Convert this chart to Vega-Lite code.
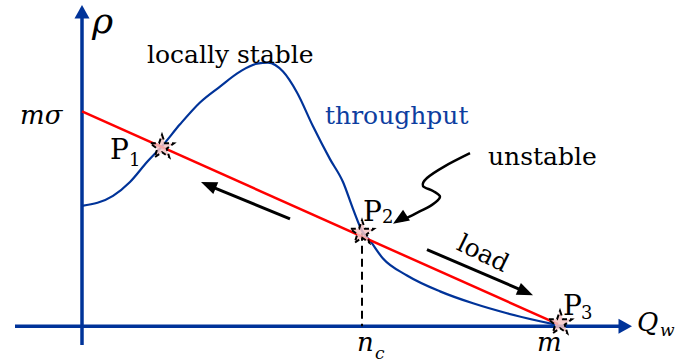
{
  "$schema": "https://vega.github.io/schema/vega-lite/v6.json",
  "width": 677,
  "height": 362,
  "padding": 0,
  "autosize": {"type": "fit", "contains": "padding"},
  "background": "white",
  "config": {"view": {"stroke": null}, "font": "DejaVu Serif"},
  "datasets": {
    "axes": [
      {"x": 0, "y": -19, "x2": 0, "y2": 312},
      {"x": -67, "y": 0, "x2": 540, "y2": 0}
    ],
    "axisHeads": [
      {"x": 0, "y": 323, "a": 0},
      {"x": 550, "y": 0, "a": 90}
    ],
    "drop": [
      {"x": 280, "y": 94, "x2": 280, "y2": 0}
    ],
    "load": [
      {"x": 0, "y": 216},
      {"x": 476, "y": 2}
    ],
    "throughput": [
      {"x": 0, "y": 121},
      {"x": 31, "y": 131},
      {"x": 48, "y": 145},
      {"x": 65, "y": 165},
      {"x": 80, "y": 181},
      {"x": 98, "y": 203},
      {"x": 118, "y": 225},
      {"x": 138, "y": 241},
      {"x": 158, "y": 256},
      {"x": 175, "y": 264},
      {"x": 186, "y": 265},
      {"x": 201, "y": 256},
      {"x": 215, "y": 235},
      {"x": 231, "y": 201},
      {"x": 248, "y": 168},
      {"x": 261, "y": 145},
      {"x": 271, "y": 118},
      {"x": 280, "y": 96},
      {"x": 288, "y": 86},
      {"x": 301, "y": 68},
      {"x": 325, "y": 51},
      {"x": 358, "y": 35},
      {"x": 391, "y": 23},
      {"x": 425, "y": 13},
      {"x": 458, "y": 5},
      {"x": 476, "y": 1}
    ],
    "arrows": [
      {"g": "a1", "o": 0, "x": 208, "y": 108},
      {"g": "a1", "o": 1, "x": 130, "y": 140},
      {"g": "a2", "o": 0, "x": 345, "y": 77},
      {"g": "a2", "o": 1, "x": 440, "y": 36}
    ],
    "squiggle": [
      {"o": 0, "x": 388, "y": 174},
      {"o": 1, "x": 363, "y": 161},
      {"o": 2, "x": 345, "y": 149},
      {"o": 3, "x": 341, "y": 141},
      {"o": 4, "x": 351, "y": 136},
      {"o": 5, "x": 358, "y": 130},
      {"o": 6, "x": 350, "y": 122},
      {"o": 7, "x": 333, "y": 113},
      {"o": 8, "x": 319, "y": 106}
    ],
    "heads": [
      {"x": 119, "y": 145, "a": 292.6},
      {"x": 451, "y": 31, "a": 113.5},
      {"x": 311, "y": 103, "a": 237.5}
    ],
    "stars": [
      {"x": 80, "y": 180},
      {"x": 280, "y": 94},
      {"x": 478, "y": 3}
    ],
    "plain": [
      {"x": 65, "y": 265, "t": "locally stable"},
      {"x": 406, "y": 162, "t": "unstable"}
    ],
    "blueText": [
      {"x": 243, "y": 203, "t": "throughput"}
    ],
    "pLabels": [
      {"x": 28, "y": 168, "t": "P"},
      {"x": 281, "y": 106, "t": "P"},
      {"x": 481, "y": 11, "t": "P"}
    ],
    "pSubs": [
      {"x": 47, "y": 161, "t": "1"},
      {"x": 300, "y": 104, "t": "2"},
      {"x": 499, "y": 7, "t": "3"}
    ],
    "rho": [
      {"x": 10, "y": 295, "t": "ρ"}
    ],
    "italic": [
      {"x": -62, "y": 203, "t": "mσ"},
      {"x": 275, "y": -25, "t": "n"},
      {"x": 455, "y": -25, "t": "m"},
      {"x": 555, "y": -5, "t": "Q"}
    ],
    "italicSubs": [
      {"x": 293, "y": -33, "t": "c"},
      {"x": 578, "y": -10, "t": "w"}
    ],
    "loadText": [
      {"x": 401, "y": 73, "t": "load"}
    ]
  },
  "encoding": {
    "x": {"field": "x", "type": "quantitative", "scale": {"domain": [-82, 595], "nice": false, "zero": false}, "axis": null},
    "y": {"field": "y", "type": "quantitative", "scale": {"domain": [-34, 328], "nice": false, "zero": false}, "axis": null}
  },
  "layer": [
    {
      "data": {"name": "axes"},
      "mark": {"type": "rule", "color": "#003399", "strokeWidth": 3.5},
      "encoding": {"x2": {"field": "x2"}, "y2": {"field": "y2"}}
    },
    {
      "data": {"name": "axisHeads"},
      "mark": {"type": "point", "shape": "M0,0L1,1.8L-1,1.8Z", "filled": true, "color": "#003399", "opacity": 1, "size": 225},
      "encoding": {"angle": {"field": "a", "type": "quantitative", "scale": null}}
    },
    {
      "data": {"name": "drop"},
      "mark": {"type": "rule", "color": "black", "strokeWidth": 2, "strokeDash": [8, 5]},
      "encoding": {"x2": {"field": "x2"}, "y2": {"field": "y2"}}
    },
    {
      "data": {"name": "throughput"},
      "mark": {"type": "line", "color": "#003399", "strokeWidth": 2.2, "interpolate": "monotone"},
      "encoding": {}
    },
    {
      "data": {"name": "load"},
      "mark": {"type": "line", "color": "#ff0000", "strokeWidth": 2.5},
      "encoding": {}
    },
    {
      "data": {"name": "arrows"},
      "mark": {"type": "line", "color": "black", "strokeWidth": 3},
      "encoding": {"detail": {"field": "g"}, "order": {"field": "o", "type": "quantitative"}}
    },
    {
      "data": {"name": "squiggle"},
      "mark": {"type": "line", "color": "black", "strokeWidth": 2.5, "interpolate": "cardinal"},
      "encoding": {"order": {"field": "o", "type": "quantitative"}}
    },
    {
      "data": {"name": "heads"},
      "mark": {"type": "point", "shape": "M0,0L0.8,2L-0.8,2Z", "filled": true, "color": "black", "opacity": 1, "size": 256},
      "encoding": {"angle": {"field": "a", "type": "quantitative", "scale": null}}
    },
    {
      "data": {"name": "stars"},
      "mark": {"type": "point", "shape": "M0,-1L0.235,-0.324L0.951,-0.309L0.38,0.124L0.588,0.809L0,0.4L-0.588,0.809L-0.38,0.124L-0.951,-0.309L-0.235,-0.324Z", "filled": false, "fill": "#f6c4c4", "fillOpacity": 0.85, "stroke": "black", "strokeWidth": 2, "strokeDash": [5, 3], "opacity": 1, "size": 620}
    },
    {
      "data": {"name": "plain"},
      "mark": {"type": "text", "font": "DejaVu Serif", "fontSize": 25, "color": "black", "align": "left", "baseline": "alphabetic"},
      "encoding": {"text": {"field": "t"}}
    },
    {
      "data": {"name": "blueText"},
      "mark": {"type": "text", "font": "DejaVu Serif", "fontSize": 25, "color": "#0d3ea0", "align": "left", "baseline": "alphabetic"},
      "encoding": {"text": {"field": "t"}}
    },
    {
      "data": {"name": "pLabels"},
      "mark": {"type": "text", "font": "DejaVu Serif", "fontSize": 28, "color": "black", "align": "left", "baseline": "alphabetic"},
      "encoding": {"text": {"field": "t"}}
    },
    {
      "data": {"name": "pSubs"},
      "mark": {"type": "text", "font": "DejaVu Serif", "fontSize": 18, "color": "black", "align": "left", "baseline": "alphabetic"},
      "encoding": {"text": {"field": "t"}}
    },
    {
      "data": {"name": "rho"},
      "mark": {"type": "text", "font": "DejaVu Serif", "fontStyle": "italic", "fontSize": 36, "color": "black", "align": "left", "baseline": "alphabetic"},
      "encoding": {"text": {"field": "t"}}
    },
    {
      "data": {"name": "italic"},
      "mark": {"type": "text", "font": "DejaVu Serif", "fontStyle": "italic", "fontSize": 26, "color": "black", "align": "left", "baseline": "alphabetic"},
      "encoding": {"text": {"field": "t"}}
    },
    {
      "data": {"name": "italicSubs"},
      "mark": {"type": "text", "font": "DejaVu Serif", "fontStyle": "italic", "fontSize": 17, "color": "black", "align": "left", "baseline": "alphabetic"},
      "encoding": {"text": {"field": "t"}}
    },
    {
      "data": {"name": "loadText"},
      "mark": {"type": "text", "font": "DejaVu Serif", "fontSize": 25, "color": "black", "align": "center", "baseline": "middle", "angle": 26},
      "encoding": {"text": {"field": "t"}}
    }
  ]
}
